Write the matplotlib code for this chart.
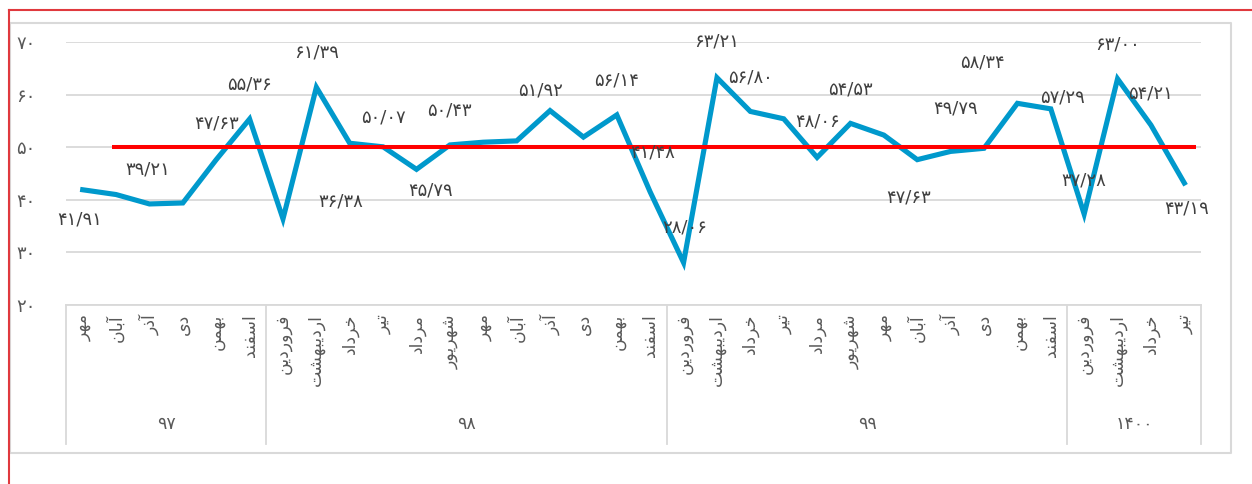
import matplotlib
matplotlib.use("Agg")
import matplotlib.pyplot as plt
from matplotlib.lines import Line2D
from matplotlib.transforms import blended_transform_factory

# ---- data -------------------------------------------------------------
years = ["97", "98", "99", "1400"]
months_per_year = [
    ["مهر", "آبان", "آذر", "دی", "بهمن", "اسفند"],
    ["فروردین", "اردیبهشت", "خرداد", "تیر", "مرداد", "شهریور",
     "مهر", "آبان", "آذر", "دی", "بهمن", "اسفند"],
    ["فروردین", "اردیبهشت", "خرداد", "تیر", "مرداد", "شهریور",
     "مهر", "آبان", "آذر", "دی", "بهمن", "اسفند"],
    ["فروردین", "اردیبهشت", "خرداد", "تیر"],
]
values = [41.91, 41.00, 39.21, 39.40, 47.63, 55.36,
          36.38, 61.39, 50.75, 50.07, 45.79, 50.43,
          50.95, 51.20, 56.96, 51.92, 56.14, 41.48,
          28.06, 63.21, 56.80, 55.40, 48.06, 54.53,
          52.30, 47.63, 49.20, 49.79, 58.34, 57.29,
          37.28, 63.00, 54.21, 43.19]
target = 50
yticks = [20, 30, 40, 50, 60, 70]

# which points carry a data label, and where the label sits (px from point)
label_idx = [0, 2, 4, 5, 6, 7, 9, 10, 11, 15, 16, 17, 18, 19, 20,
             22, 23, 25, 27, 28, 29, 30, 31, 32, 33]
label_off = [(-3, 30), (-2, -34), (0, -36), (0, -35), (58, -17), (0, -35),
             (0, -29), (14, 21), (0, -34), (-43, -47), (0, -34), (2, -40),
             (1, -35), (0, -36), (0, -34), (1, -36), (0, -34), (-9, 38),
             (-28, -40), (-35, -41), (12, -11), (0, -34), (0, -34),
             (0, -32), (2, 25)]

# ---- persian helpers ---------------------------------------------------
FA_DIGITS = str.maketrans("0123456789.", "۰۱۲۳۴۵۶۷۸۹/")

def fa(s):
    return str(s).translate(FA_DIGITS)

# isolated, final, initial, medial
FORMS = {
    "ا": ("\uFE8D", "\uFE8E", None, None),
    "آ": ("\uFE81", "\uFE82", None, None),
    "ب": ("\uFE8F", "\uFE90", "\uFE91", "\uFE92"),
    "ت": ("\uFE95", "\uFE96", "\uFE97", "\uFE98"),
    "خ": ("\uFEA5", "\uFEA6", "\uFEA7", "\uFEA8"),
    "د": ("\uFEA9", "\uFEAA", None, None),
    "ذ": ("\uFEAB", "\uFEAC", None, None),
    "ر": ("\uFEAD", "\uFEAE", None, None),
    "س": ("\uFEB1", "\uFEB2", "\uFEB3", "\uFEB4"),
    "ش": ("\uFEB5", "\uFEB6", "\uFEB7", "\uFEB8"),
    "ف": ("\uFED1", "\uFED2", "\uFED3", "\uFED4"),
    "م": ("\uFEE1", "\uFEE2", "\uFEE3", "\uFEE4"),
    "ن": ("\uFEE5", "\uFEE6", "\uFEE7", "\uFEE8"),
    "ه": ("\uFEE9", "\uFEEA", "\uFEEB", "\uFEEC"),
    "و": ("\uFEED", "\uFEEE", None, None),
    "ی": ("\uFBFC", "\uFBFD", "\uFBFE", "\uFBFF"),
}

def shape(word):
    out = []
    for i, c in enumerate(word):
        f = FORMS[c]
        prev = word[i - 1] if i > 0 else None
        nxt = word[i + 1] if i + 1 < len(word) else None
        jp = prev is not None and FORMS[prev][2] is not None
        jn = f[2] is not None and nxt is not None
        if jp and jn:
            out.append(f[3])
        elif jp:
            out.append(f[1])
        elif jn:
            out.append(f[2])
        else:
            out.append(f[0])
    return "".join(out[::-1])

# ---- figure -------------------------------------------------------------
plt.rcParams["font.family"] = ["DejaVu Sans"]
fig = plt.figure(figsize=(12.52, 4.84), dpi=100)
W, H = 1252, 484
ax = fig.add_axes([66 / W, 1 - 305 / H, 1135 / W, 263 / H])

x = list(range(len(values)))
ax.plot(x, values, color="#0099CC", lw=3.7, solid_joinstyle="miter", zorder=3)
ax.hlines(target, 0.87, 33.35, color="#FF0000", lw=2.9, zorder=4)

for i, (dx, dy) in zip(label_idx, label_off):
    ax.annotate(fa(f"{values[i]:.2f}"), xy=(i, values[i]), xytext=(dx * 0.72, -dy * 0.72),
                textcoords="offset points", ha="center", va="center",
                fontsize=13, color="#404040", zorder=5)

ax.set_xlim(-0.5, len(values) - 0.5)
ax.set_ylim(20, 70)
ax.set_yticks(yticks)
ax.set_yticklabels([fa(t) for t in yticks], color="#595959", fontsize=13)
ax.tick_params(axis="y", length=0, pad=22)
ax.set_xticks([])
ax.grid(axis="y", color="#D9D9D9", lw=1.3)
ax.set_axisbelow(True)
for s in ["top", "right", "left"]:
    ax.spines[s].set_visible(False)
ax.spines["bottom"].set_color("#D9D9D9")
ax.spines["bottom"].set_linewidth(1.3)

# multi-level category axis
tr = blended_transform_factory(ax.transData, fig.transFigure)
y_top, y_bot = 1 - 305 / H, 1 - 444 / H
pos = 0
bounds = [-0.5]
for yr, months in zip(years, months_per_year):
    for m in months:
        ax.text(pos, 1 - 314 / H, shape(m), transform=tr, rotation=90,
                ha="center", va="top", fontsize=12.5, color="#595959")
        pos += 1
    ax.text(pos - len(months) / 2 - 0.5, 1 - 424 / H, fa(yr), transform=tr,
            ha="center", va="center", fontsize=12.5, color="#595959")
    bounds.append(pos - 0.5)
for b in bounds:
    ax.add_line(Line2D([b, b], [y_top, y_bot], transform=tr, color="#D9D9D9",
                       lw=1.3, clip_on=False))

# chart frame and the red border lines
fig.add_artist(Line2D([10 / W, 1231 / W, 1231 / W, 10 / W, 10 / W],
                      [1 - 23 / H, 1 - 23 / H, 1 - 453 / H, 1 - 453 / H, 1 - 23 / H],
                      color="#D9D9D9", lw=1.5))
fig.add_artist(Line2D([9 / W, 9 / W], [1 - 10 / H, 0], color="#E0393E", lw=1.5))
fig.add_artist(Line2D([9 / W, 1], [1 - 10 / H, 1 - 10 / H], color="#E0393E", lw=1.5))

fig.savefig("out.png", dpi=100)
